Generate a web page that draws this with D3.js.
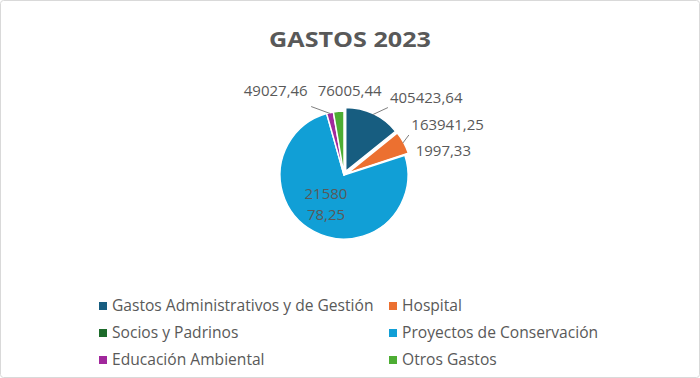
<!DOCTYPE html>
<html>
<head>
<meta charset="utf-8">
<script src="https://cdn.jsdelivr.net/npm/d3@7"></script>
<style>
  html, body { margin: 0; padding: 0; background: #fff; }
  svg { display: block; }
  text { font-family: "Open Sans", "Noto Sans", sans-serif; }
</style>
</head>
<body>
<svg id="chart" width="700" height="378"></svg>
<script>
const title = "GASTOS 2023";
const categories = [
  "Gastos Administrativos y de Gestión",
  "Hospital",
  "Socios y Padrinos",
  "Proyectos de Conservación",
  "Educación Ambiental",
  "Otros Gastos"
];
const values = [405423.64, 163941.25, 1997.33, 2158078.25, 49027.46, 76005.44];
const labelTexts = [
  ["405423,64"],
  ["163941,25"],
  ["1997,33"],
  ["21580", "78,25"],
  ["49027,46"],
  ["76005,44"]
];
const colors = ["#175d80", "#ec7030", "#1d6b2b", "#119fd6", "#a1289c", "#4dad33"];

const svg = d3.select("#chart");
const W = 700, H = 378;
const textColor = "#595959";

// border
svg.append("rect").attr("x", 0.5).attr("y", 0.5).attr("width", W - 1).attr("height", H - 1)
  .attr("rx", 3).attr("fill", "#fff").attr("stroke", "#d9d9d9");

// title (slightly wide face as in the reference)
svg.append("text")
  .attr("transform", "translate(350,47) scale(1.17,1)")
  .attr("text-anchor", "middle")
  .attr("font-size", 21.5).attr("font-weight", 700).attr("fill", textColor).text(title);

const data = categories.map((c, i) => ({ name: c, value: values[i], label: labelTexts[i], color: colors[i] }));
const cx = 344, cy = 175, r = 64;
const pie = d3.pie().sort(null).value(d => d.value);
const arcs = pie(data);
const arc = d3.arc().innerRadius(0).outerRadius(r);
const g = svg.append("g").attr("transform", `translate(${cx},${cy})`);

const explode = [4, 4, 4, 0, 0, 0];
const polar = (a, rad) => [Math.sin(a) * rad, -Math.cos(a) * rad];

g.selectAll("path.slice").data(arcs).join("path")
  .attr("class", "slice")
  .attr("d", arc)
  .attr("transform", (d, i) => {
    const m = (d.startAngle + d.endAngle) / 2;
    const [x, y] = polar(m, explode[i]);
    return `translate(${x},${y})`;
  })
  .attr("fill", d => d.data.color)
  .attr("stroke", "#fff").attr("stroke-width", 1.5).attr("stroke-linejoin", "round");

// label placement (Excel-like best fit)
const fs = 15;
const labelPlace = [
  { rad: 88, anchor: "start", dx: 8, dy: 2, leader: [15, 7] },
  { rad: 88, anchor: "start", dx: -10, dy: -8, leader: [6, 8] },
  { rad: 88, anchor: "start", dx: -12, dy: 3, leader: null },
  { rad: 34, anchor: "middle", dx: -2, dy: -1, leader: null },
  { rad: 88, anchor: "end", dx: -17, dy: 2, leader: [-19, 7] },
  { rad: 88, anchor: "middle", dx: 13, dy: 3, leader: null }
];

arcs.forEach((d, i) => {
  const p = labelPlace[i];
  const m = (d.startAngle + d.endAngle) / 2;
  const [ax, ay] = polar(m, p.rad);
  const lines = d.data.label;
  const lh = 21;
  const x = ax + p.dx;
  const y0 = ay + p.dy - (lines.length - 1) * lh / 2;
  const t = g.append("text").attr("text-anchor", p.anchor).attr("font-size", fs).attr("fill", textColor);
  lines.forEach((ln, k) => {
    t.append("tspan").attr("x", x).attr("y", y0 + k * lh).attr("dy", "0.35em").text(ln);
  });
  if (p.leader) {
    const [sx, sy] = polar(m, r + explode[i] - 1);
    g.append("line").attr("x1", sx).attr("y1", sy)
      .attr("x2", sx + p.leader[0]).attr("y2", sy - p.leader[1])
      .attr("stroke", "#7f7f7f").attr("stroke-width", 1);
  }
});

// legend
const legend = svg.append("g").attr("font-size", 15.6).attr("fill", textColor);
const colX = [99, 389], rowY = [306, 333, 360];
data.forEach((d, i) => {
  const col = i % 2, row = Math.floor(i / 2);
  const gx = colX[col], gy = rowY[row];
  legend.append("rect").attr("x", gx).attr("y", gy - 4).attr("width", 8).attr("height", 8).attr("fill", d.color);
  legend.append("text").attr("x", gx + 13).attr("y", gy).attr("dy", "0.35em").text(d.name);
});
</script>
</body>
</html>
